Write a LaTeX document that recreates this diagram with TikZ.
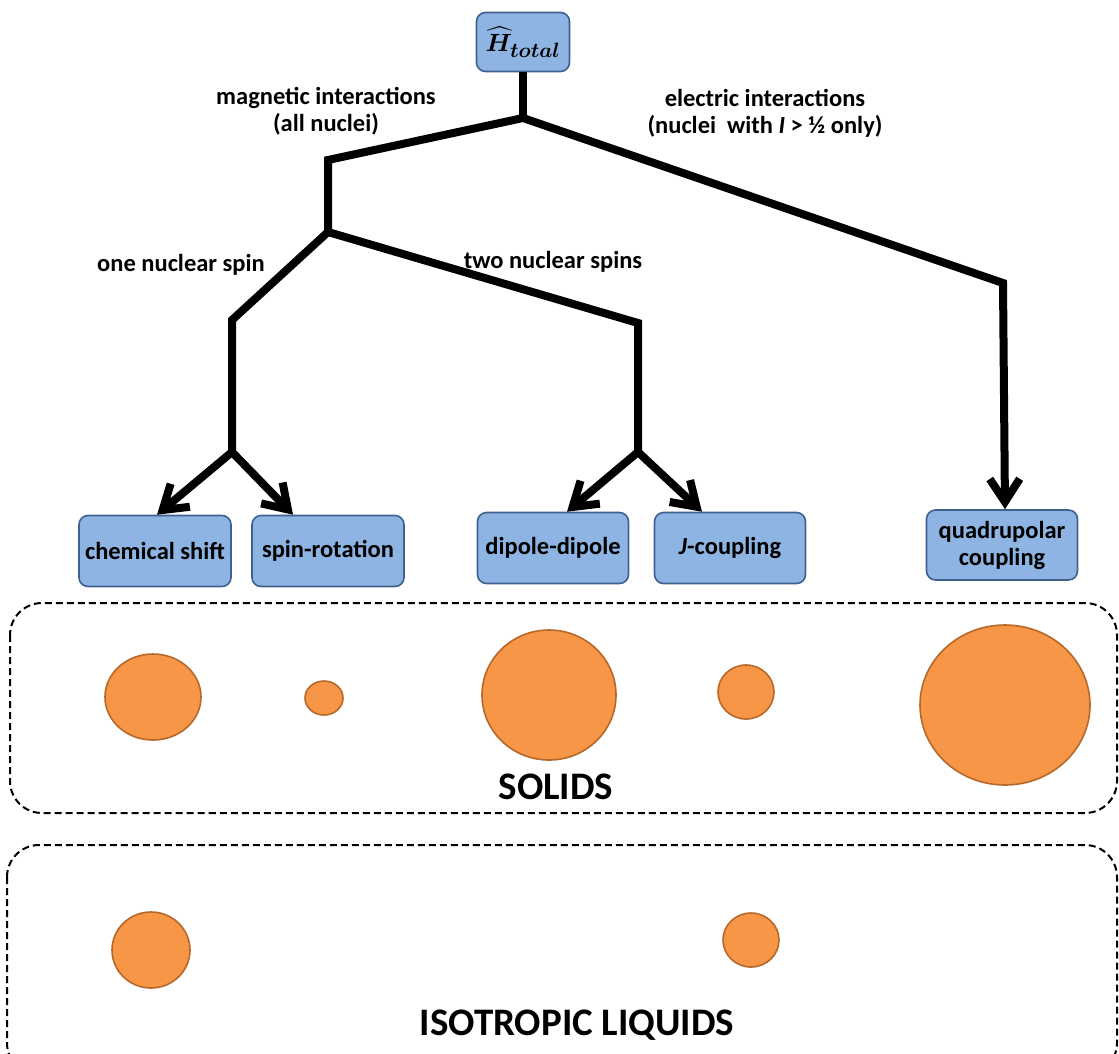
\documentclass[tikz,border=0pt]{standalone}
\usepackage{amsmath,bm}
\usepackage{fontspec}
\setmainfont{Carlito}
\usetikzlibrary{arrows.meta,calc}
\definecolor{boxFill}{RGB}{141,180,226}
\definecolor{boxLine}{RGB}{62,97,142}
\definecolor{dotFill}{RGB}{247,150,70}
\definecolor{dotLine}{RGB}{182,104,42}

\begin{document}
\begin{tikzpicture}[
  x=1pt, y=-1pt,
  font=\bfseries\fontsize{24.5}{27}\selectfont,
  term/.style={draw=boxLine, fill=boxFill, rounded corners=9pt, line width=1.6pt, minimum width=152pt, minimum height=71pt, align=center, inner sep=2pt},
  branch/.style={line width=8pt, draw=black},
  arrow/.style={branch, -{Straight Barb[length=23pt, width=30pt]}, line cap=round},
  label/.style={align=center},
  phase/.style={draw=black, dash pattern=on 7pt off 4pt, line width=2pt, rounded corners=32pt},
  phasename/.style={font=\bfseries\fontsize{39}{44}\selectfont},
  dot/.style={draw=dotLine, fill=dotFill, line width=1.6pt}
]
\clip (0,0) rectangle (1119,1053);

% Hamiltonian
\node[term, minimum width=93pt, minimum height=59pt, font=\fontsize{28}{30}\selectfont] (htot) at (523,42) {$\bm{\widehat{H}_{total}}$};

% Interaction boxes
\node[term] (cs) at (155,551) {chemical shift};
\node[term] (sr) at (328,551) {spin-rotation};
\node[term, minimum width=151pt] (dd) at (553,548) {dipole-dipole};
\node[term, minimum width=151pt] (jc) at (730,548) {\textit{J}-coupling};
\node[term, minimum width=151pt, minimum height=70pt] (qc) at (1002,545) {quadrupolar\\coupling};

% Branch points
\coordinate (top) at (523,118);
\coordinate (mag) at (328,160);
\coordinate (spin) at (328,232);
\coordinate (one) at (232,320);
\coordinate (onefork) at (232,452);
\coordinate (two) at (638,323);
\coordinate (twofork) at (638,452);
\coordinate (elec) at (1003,283);

\draw[branch] (htot.south) -- (top);
\draw[branch] (top) -- (mag) -- (spin);
\draw[branch] (spin) -- (one) -- (onefork);
\draw[branch] (spin) -- (two) -- (twofork);
\draw[arrow] (onefork) -- ([xshift=2pt]cs.north);
\draw[arrow] (onefork) -- ([xshift=-35pt]sr.north);
\draw[arrow] (twofork) -- ([xshift=14pt]dd.north);
\draw[arrow] (twofork) -- ([xshift=-28pt]jc.north);
\draw[arrow] (top) -- (elec) -- ([xshift=3pt]qc.north);

% Branch labels
\node[label] at (326,111) {magnetic interactions\\(all nuclei)};
\node[label] at (765,113) {electric interactions\\(nuclei~ with \textit{I} > ½ only)};
\node[label] at (181,265) {one nuclear spin};
\node[label] at (553,262) {two nuclear spins};

% Solids
\draw[phase] (10,603) rectangle (1117,813);
\draw[dot] (153,697) ellipse [x radius=48pt, y radius=43pt];
\draw[dot] (324,698) ellipse [x radius=19pt, y radius=17pt];
\draw[dot] (549,695) ellipse [x radius=67pt, y radius=65pt];
\draw[dot] (746,692) ellipse [x radius=28pt, y radius=27pt];
\draw[dot] (1005,705) ellipse [x radius=85pt, y radius=80pt];
\node[phasename] at (556,787) {SOLIDS};

% Isotropic liquids
\draw[phase] (7,845) rectangle (1117,1075);
\draw[dot] (151,950) ellipse [x radius=39pt, y radius=38pt];
\draw[dot] (751,940) ellipse [x radius=28pt, y radius=27pt];
\node[phasename] at (577,1025) {ISOTROPIC LIQUIDS};

\end{tikzpicture}
\end{document}
